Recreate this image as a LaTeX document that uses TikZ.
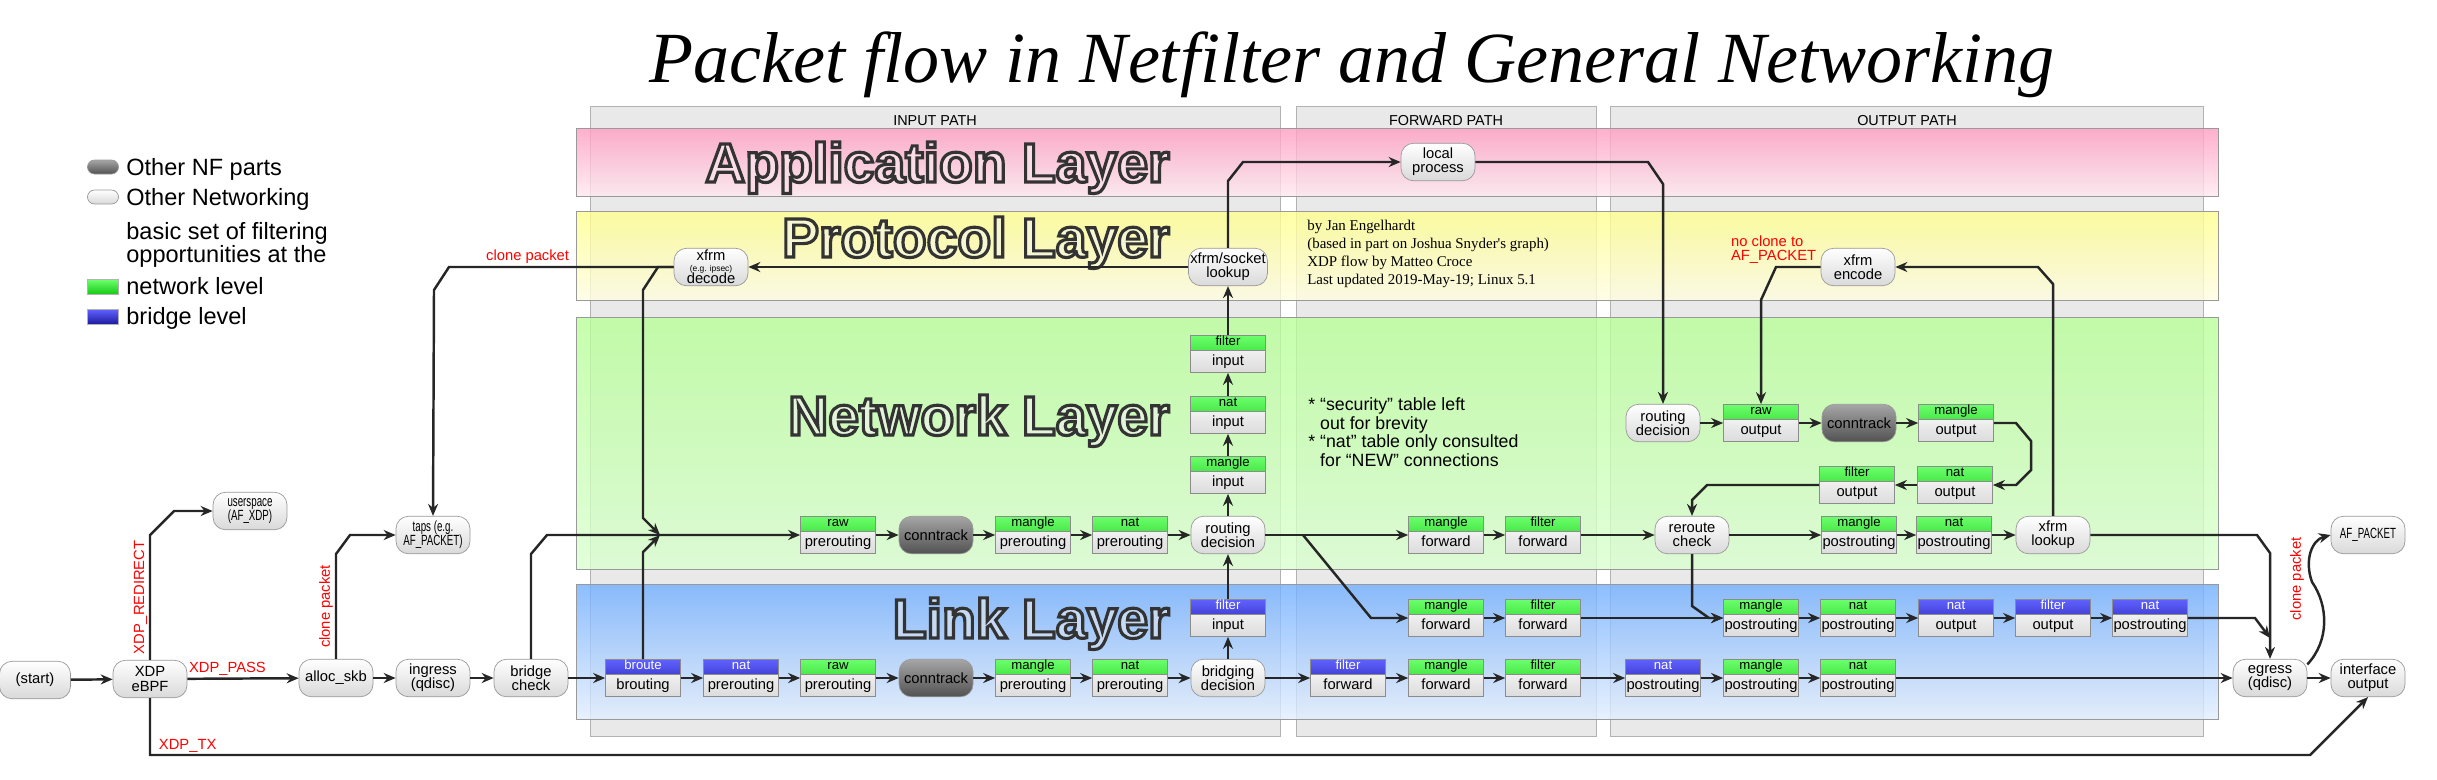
\documentclass[tikz,border=0pt]{standalone}
\usepackage{fontspec}
\setmainfont{Liberation Sans}
\newfontfamily\serifface{Liberation Serif}
\newfontfamily\narrowface{Liberation Sans}[FakeStretch=0.66]
\usetikzlibrary{arrows.meta}
\definecolor{nfgreentop}{HTML}{6CFF6C}
\definecolor{nfgreenbot}{HTML}{14C814}
\definecolor{nfbluetop}{HTML}{6060FF}
\definecolor{nfbluebot}{HTML}{1A1A9C}
\definecolor{apptop}{HTML}{FF9CC0}
\definecolor{appbot}{HTML}{FFE8F0}
\definecolor{prototop}{HTML}{FFFF8C}
\definecolor{protobot}{HTML}{FFFDE2}
\definecolor{nettop}{HTML}{B8FF98}
\definecolor{netbot}{HTML}{DAFFD0}
\definecolor{linktop}{HTML}{70AEFF}
\definecolor{linkbot}{HTML}{E2EEFF}
\definecolor{panelgray}{HTML}{E9E9E9}
\definecolor{xdpred}{HTML}{FF0000}
\definecolor{appletter}{HTML}{F9DDE7}
\definecolor{protoletter}{HTML}{F6F6D2}
\definecolor{netletter}{HTML}{E2F4DA}
\definecolor{linkletter}{HTML}{C6DAF4}
\newcommand\outlined[1]{\special{pdf:literal direct 0.2 0.2 0.2 RG 1.8 w 2 Tr}#1\special{pdf:literal direct 0 Tr}}

\begin{document}
\begin{tikzpicture}[x=0.02cm, y=-0.02cm,
	pill/.style={draw=black!40, rounded corners=0.25cm, minimum width=1.48cm, minimum height=0.75cm, inner sep=1pt, align=center, top color=white, bottom color=black!15, font=\fontsize{8.4}{8}\selectfont},
	nfpart/.style={pill, top color=black!35, bottom color=black!68},
	narrow/.style={font=\fontsize{8.4}{8}\narrowface},
	tbl/.style={draw=black!45, minimum width=1.5cm, inner sep=0pt, text height=0.6cm, text depth=0.14cm, top color=white, bottom color=black!14, font=\fontsize{8.4}{8}\selectfont},
	hdtext/.style={anchor=north, inner sep=0pt, text height=0.2cm, text depth=0.1cm, font=\fontsize{7.5}{7.5}\selectfont},
	greentbl/.style={tbl, path picture={\shade[top color=nfgreentop, bottom color=nfgreenbot] (path picture bounding box.north west) rectangle ([yshift=-0.3cm]path picture bounding box.north east); \draw[black!45] ([yshift=-0.3cm]path picture bounding box.north west) -- ([yshift=-0.3cm]path picture bounding box.north east);}, label={[hdtext]north:#1}},
	bluetbl/.style={tbl, path picture={\shade[top color=nfbluetop, bottom color=nfbluebot] (path picture bounding box.north west) rectangle ([yshift=-0.3cm]path picture bounding box.north east); \draw[black!45] ([yshift=-0.3cm]path picture bounding box.north west) -- ([yshift=-0.3cm]path picture bounding box.north east);}, label={[hdtext, text=white]north:#1}},
	legrect/.style={draw=black!30, minimum width=0.62cm, minimum height=0.3cm, inner sep=0pt},
	legtext/.style={inner sep=0pt, font=\fontsize{13.4}{10}\selectfont},
	flow/.style={draw=black!85, line width=1.4pt, -{Stealth[length=0.24cm, width=0.2cm]}},
	redlabel/.style={text=xdpred, inner sep=1pt, font=\fontsize{8.4}{8.4}\selectfont},
	panel/.style={fill=panelgray, draw=black!30},
	pathlabel/.style={font=\fontsize{8.2}{8.2}\selectfont},
	layertitle/.style={anchor=base east, inner sep=0pt, font=\fontsize{31.5}{31.5}\selectfont\bfseries}]
	\useasboundingbox (0,0) rectangle (2437,779);

	% title and legend
	\node[anchor=base, inner sep=0pt, font=\fontsize{41}{41}\serifface\itshape] (title) at (1352,82) {Packet flow in Netfilter and General Networking};
	\node[nfpart, minimum width=0.62cm, minimum height=0.28cm, rounded corners=0.14cm, inner sep=0pt] (legnf) at (103,167) {};
	\node[legtext, anchor=base west] (legnftext) at (126,175) {Other NF parts};
	\node[pill, minimum width=0.62cm, minimum height=0.28cm, rounded corners=0.14cm, inner sep=0pt] (legnet) at (103,197) {};
	\node[legtext, anchor=base west] (legnettext) at (126,205) {Other Networking};
	\node[legtext, anchor=west, align=left] (legbasic) at (126,245) {basic set of filtering\\opportunities at the};
	\node[legrect, top color=nfgreentop, bottom color=nfgreenbot] (leggreen) at (103,287) {};
	\node[legtext, anchor=base west] (leggreentext) at (126,294) {network level};
	\node[legrect, top color=nfbluetop, bottom color=nfbluebot] (legblue) at (103,317) {};
	\node[legtext, anchor=base west] (legbluetext) at (126,324) {bridge level};

	% paths and layers
	\draw[panel] (590,106) rectangle (1280,736);
	\draw[panel] (1296,106) rectangle (1596,736);
	\draw[panel] (1610,106) rectangle (2203,736);
	\node[pathlabel] (inputlbl) at (935,121) {INPUT PATH};
	\node[pathlabel] (forwardlbl) at (1446,121) {FORWARD PATH};
	\node[pathlabel] (outputlbl) at (1907,121) {OUTPUT PATH};
	\shade[top color=apptop, bottom color=appbot, fill opacity=0.8, draw=black!40] (576,128) rectangle (2218,196);
	\shade[top color=prototop, bottom color=protobot, fill opacity=0.8, draw=black!40] (576,211) rectangle (2218,300);
	\shade[top color=nettop, bottom color=netbot, fill opacity=0.8, draw=black!40] (576,317) rectangle (2218,569);
	\shade[top color=linktop, bottom color=linkbot, fill opacity=0.8, draw=black!40] (576,584) rectangle (2218,719);
	\node[layertitle, text=appletter] (applayer) at (1170,182) {\outlined{Application Layer}};
	\node[layertitle, text=protoletter] (protolayer) at (1170,257) {\outlined{Protocol Layer}};
	\node[layertitle, text=netletter] (netlayer) at (1170,435) {\outlined{Network Layer}};
	\node[layertitle, text=linkletter] (linklayer) at (1170,638) {\outlined{Link Layer}};

	\node[anchor=west, align=left, inner sep=0pt, font=\fontsize{8.5}{10.4}\serifface] (credits) at (1307,254) {by Jan Engelhardt\\(based in part on Joshua Snyder's graph)\\XDP flow by Matteo Croce\\Last updated 2019-May-19; Linux 5.1};
	\node[anchor=west, align=left, inner sep=0pt, font=\fontsize{10.1}{10.5}\selectfont] (notes) at (1308,432) {* “security” table left\\\hphantom{* }out for brevity\\* “nat” table only consulted\\\hphantom{* }for “NEW” connections};
	\node[redlabel, anchor=west, align=left, font=\fontsize{8.4}{8}\selectfont] (noclone) at (1729,250) {no clone to\\AF\_PACKET};

	% ingress side
	\node[pill, minimum width=1.42cm] (start) at (35,680) {(start)};
	\node[pill] (xdp) at (150,679) {XDP\\eBPF};
	\node[pill, narrow] (afxdp) at (250,511) {userspace\\(AF\_XDP)};
	\node[pill] (alloc) at (336,678) {alloc\_skb};
	\node[pill, narrow] (taps) at (433,535) {taps (e.g.\\AF\_PACKET)};
	\node[pill] (ingress) at (433,678) {ingress\\(qdisc)};
	\node[pill] (brcheck) at (531,678) {bridge\\check};

	% input path
	\node[bluetbl=broute] (broute) at (643,678) {brouting};
	\node[bluetbl=nat] (brnatpre) at (741,678) {prerouting};
	\node[greentbl=raw] (brrawpre) at (838,678) {prerouting};
	\node[nfpart] (brconntrack) at (936,678) {conntrack};
	\node[greentbl=mangle] (brmanglepre) at (1033,678) {prerouting};
	\node[greentbl=nat] (brnatpre2) at (1130,678) {prerouting};
	\node[pill] (brdecision) at (1228,678) {bridging\\decision};
	\node[bluetbl=filter] (brfilterin) at (1228,618) {input};
	\node[greentbl=raw] (rawpre) at (838,535) {prerouting};
	\node[nfpart] (conntrack) at (936,535) {conntrack};
	\node[greentbl=mangle] (manglepre) at (1033,535) {prerouting};
	\node[greentbl=nat] (natpre) at (1130,535) {prerouting};
	\node[pill] (inroute) at (1228,535) {routing\\decision};
	\node[greentbl=mangle] (manglein) at (1228,475) {input};
	\node[greentbl=nat] (natin) at (1228,415) {input};
	\node[greentbl=filter] (filterin) at (1228,354) {input};
	\node[pill] (socklookup) at (1228,267) {xfrm/socket\\lookup};
	\node[pill] (decode) at (711,267) {xfrm\\[-2pt]{\fontsize{4.8}{4.8}\selectfont(e.g. ipsec)}\\[-1pt]decode};
	\node[pill] (localproc) at (1438,162) {local\\process};
	\coordinate (jn) at (660,535);

	% forward path
	\node[greentbl=mangle] (manglefwd) at (1446,535) {forward};
	\node[greentbl=filter] (filterfwd) at (1543,535) {forward};
	\node[greentbl=mangle] (b1manglefwd) at (1446,618) {forward};
	\node[greentbl=filter] (b1filterfwd) at (1543,618) {forward};
	\node[bluetbl=filter] (b2filterfwd) at (1348,678) {forward};
	\node[greentbl=mangle] (b2manglefwd) at (1446,678) {forward};
	\node[greentbl=filter] (b2filterfwd2) at (1543,678) {forward};
	\coordinate (fwdsplit) at (1303,535);

	% output path
	\node[pill] (encode) at (1858,267) {xfrm\\encode};
	\node[pill] (outroute) at (1663,423) {routing\\decision};
	\node[greentbl=raw] (rawout) at (1761,423) {output};
	\node[nfpart] (outconntrack) at (1859,423) {conntrack};
	\node[greentbl=mangle] (mangleout) at (1956,423) {output};
	\node[greentbl=nat] (natout) at (1955,485) {output};
	\node[greentbl=filter] (filterout) at (1857,485) {output};
	\node[pill] (reroute) at (1692,535) {reroute\\check};
	\node[greentbl=mangle] (manglepost) at (1859,535) {postrouting};
	\node[greentbl=nat] (natpost) at (1954,535) {postrouting};
	\node[pill] (xfrmlookup) at (2053,535) {xfrm\\lookup};
	\node[greentbl=mangle] (r1manglepost) at (1761,618) {postrouting};
	\node[greentbl=nat] (r1natpost) at (1858,618) {postrouting};
	\node[bluetbl=nat] (r1natout) at (1956,618) {output};
	\node[bluetbl=filter] (r1filterout) at (2053,618) {output};
	\node[bluetbl=nat] (r1natpost2) at (2150,618) {postrouting};
	\node[bluetbl=nat] (r2natpost) at (1663,678) {postrouting};
	\node[greentbl=mangle] (r2manglepost) at (1761,678) {postrouting};
	\node[greentbl=nat] (r2natpost2) at (1858,678) {postrouting};
	\node[pill] (egress) at (2270,678) {egress\\(qdisc)};
	\node[pill] (ifout) at (2368,678) {interface\\output};
	\node[pill, narrow] (afpacket) at (2368,535) {AF\_PACKET};
	\coordinate (egmerge) at (2270,638);

	% connections
	\draw[flow] (start) -- (xdp);
	\draw[flow] (xdp) -- node[redlabel, above, pos=0.36] (xdppass) {XDP\_PASS} (alloc);
	\draw[flow] (xdp.north) -- node[redlabel, rotate=90, above, midway] (xdpredirect) {XDP\_REDIRECT} (150,535) -- (174,511) -- (afxdp.west);
	\draw[flow] (xdp.south) -- (150,755) node[redlabel, above right, xshift=0.12cm] (xdptx) {XDP\_TX} -- (2310,755) -- (ifout.south);
	\draw[flow] (alloc) -- (ingress);
	\draw[flow] (ingress) -- (brcheck);
	\draw[flow] (alloc.north) -- node[redlabel, rotate=90, above, midway] (clonealloc) {clone packet} (336,554) -- (350,535) -- (taps.west);
	\draw[flow] (brcheck) -- (broute);
	\draw[flow] (brcheck.north) -- (531,554) -- (547,535) -- (rawpre.west);
	\draw[flow] (broute.north) -- (643,552) -- (jn);
	\draw[flow] (decode.west) -- node[redlabel, above, pos=0.65] (clonedecode) {clone packet} (449,267) -- (434,290) -- (taps.north);
	\draw[flow] (decode.west) -- (658,267) -- (643,290) -- (643,518) -- (jn);
	\draw[flow] (socklookup) -- (decode);

	\draw[flow] (broute) -- (brnatpre);
	\draw[flow] (brnatpre) -- (brrawpre);
	\draw[flow] (brrawpre) -- (brconntrack);
	\draw[flow] (brconntrack) -- (brmanglepre);
	\draw[flow] (brmanglepre) -- (brnatpre2);
	\draw[flow] (brnatpre2) -- (brdecision);
	\draw[flow] (brdecision) -- (brfilterin);
	\draw[flow] (brfilterin) -- (inroute);

	\draw[flow] (rawpre) -- (conntrack);
	\draw[flow] (conntrack) -- (manglepre);
	\draw[flow] (manglepre) -- (natpre);
	\draw[flow] (natpre) -- (inroute);
	\draw[flow] (inroute) -- (manglein);
	\draw[flow] (manglein) -- (natin);
	\draw[flow] (natin) -- (filterin);
	\draw[flow] (filterin) -- (socklookup);
	\draw[flow] (socklookup.north) -- (1228,181) -- (1243,162) -- (localproc.west);
	\draw[flow] (localproc.east) -- (1648,162) -- (1663,184) -- (outroute.north);

	\draw[flow] (inroute) -- (manglefwd);
	\draw[flow] (fwdsplit) -- (1371,618) -- (b1manglefwd.west);
	\draw[flow] (manglefwd) -- (filterfwd);
	\draw[flow] (filterfwd) -- (reroute);
	\draw[flow] (b1manglefwd) -- (b1filterfwd);
	\draw[flow] (b1filterfwd) -- (r1manglepost);
	\draw[flow] (brdecision) -- (b2filterfwd);
	\draw[flow] (b2filterfwd) -- (b2manglefwd);
	\draw[flow] (b2manglefwd) -- (b2filterfwd2);
	\draw[flow] (b2filterfwd2) -- (r2natpost);

	\draw[flow] (encode.west) -- (1776,267) -- (1761,300) -- (rawout.north);
	\draw[flow] (outroute) -- (rawout);
	\draw[flow] (rawout) -- (outconntrack);
	\draw[flow] (outconntrack) -- (mangleout);
	\draw[flow] (mangleout.east) -- (2016,423) -- (2031,441) -- (2031,470) -- (2016,485) -- (natout.east);
	\draw[flow] (natout) -- (filterout);
	\draw[flow] (filterout.west) -- (1707,485) -- (1692,500) -- (reroute.north);
	\draw[flow] (reroute) -- (manglepost);
	\draw[flow] (manglepost) -- (natpost);
	\draw[flow] (natpost) -- (xfrmlookup);
	\draw[flow] (xfrmlookup.north) -- (2053,284) -- (2038,267) -- (encode.east);
	\draw[flow] (xfrmlookup.east) -- (2257,535) -- (2270,553) -- (egress.north);
	\draw[flow] (reroute.south) -- (1692,606) -- (1709,618) -- (r1manglepost.west);
	\draw[flow] (r1manglepost) -- (r1natpost);
	\draw[flow] (r1natpost) -- (r1natout);
	\draw[flow] (r1natout) -- (r1filterout);
	\draw[flow] (r1filterout) -- (r1natpost2);
	\draw[flow] (r1natpost2.east) -- (2255,618) -- (egmerge);
	\draw[flow] (r2natpost) -- (r2manglepost);
	\draw[flow] (r2manglepost) -- (r2natpost2);
	\draw[flow] (r2natpost2) -- (egress);
	\draw[flow] (egress) -- (ifout);
	\draw[flow] (egress.20) .. controls (2330,640) and (2328,605) .. (2312,582) .. controls (2304,560) and (2312,540) .. (afpacket.west);
	\node[redlabel, rotate=90] (cloneegress) at (2297,579) {clone packet};
\end{tikzpicture}
\end{document}
